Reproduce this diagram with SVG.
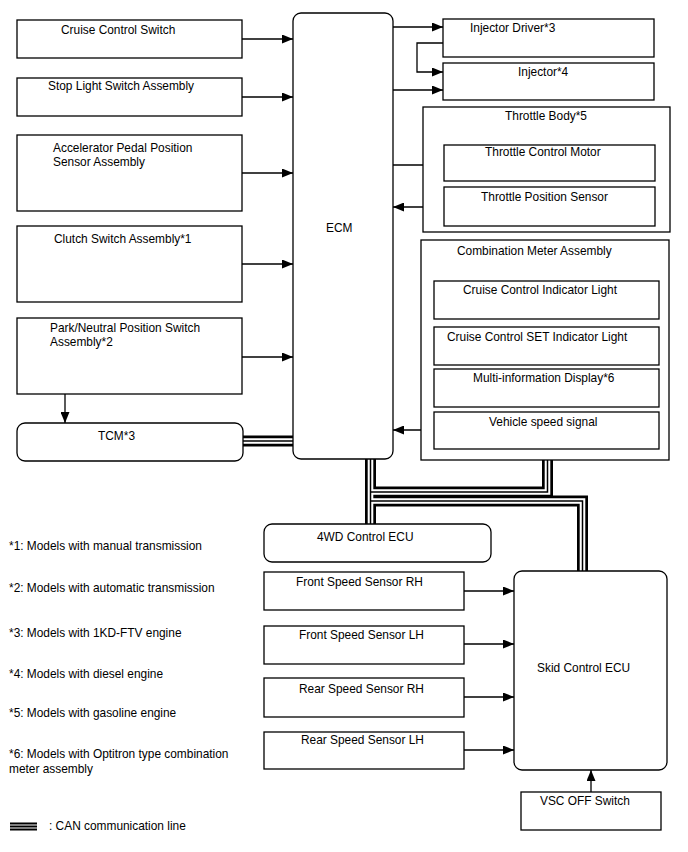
<svg xmlns="http://www.w3.org/2000/svg" width="688" height="852" viewBox="0 0 688 852">
<style>
text{font-family:"Liberation Sans",Arial,sans-serif;font-size:11.9px;fill:#000}
.b{fill:#fff;stroke:#000;stroke-width:1.3}
.c{fill:none;stroke:#000;stroke-width:1.3}
.k1{fill:none;stroke:#000;stroke-width:11}
.k2{fill:none;stroke:#fff;stroke-width:5.6}
.k3{fill:none;stroke:#000;stroke-width:1.5}
</style>
<defs>
<marker id="ah" markerUnits="userSpaceOnUse" markerWidth="11" markerHeight="9" refX="11" refY="4.5" orient="auto">
<path d="M0,0 L11,4.5 L0,9 z" fill="#000"/>
</marker>
</defs>
<g id="connectors">
<g marker-end="url(#ah)" class="c">
<path class="c" d="M242,39 H293"/>
<path class="c" d="M242,97 H293"/>
<path class="c" d="M242,173 H293"/>
<path class="c" d="M242,264 H293"/>
<path class="c" d="M242,357 H293"/>
<path class="c" d="M65,394 V423"/>
<path class="c" d="M393,27 H443"/>
<path class="c" d="M443,43 H417 V72 H443"/>
<path class="c" d="M393,90 H443"/>
<path class="c" d="M393,165 H444"/>
<path class="c" d="M444,207 H393"/>
<path class="c" d="M434,430 H393"/>
<path class="c" d="M464,591 H514"/>
<path class="c" d="M464,644 H514"/>
<path class="c" d="M464,697 H514"/>
<path class="c" d="M464,750 H514"/>
<path class="c" d="M591,792 V770"/>
</g>
<g id="can">
<path class="k1" d="M243,441 H293"/>
<path class="k1" d="M370.5,459 V524"/>
<path class="k1" d="M370.5,492 H547.5 V460"/>
<path class="k1" d="M370.5,501 H582.5 V571"/>
<path class="k2" d="M243,441 H293"/>
<path class="k2" d="M370.5,459 V524"/>
<path class="k2" d="M370.5,492 H547.5 V460"/>
<path class="k2" d="M370.5,501 H582.5 V571"/>
<path class="k3" d="M243,441 H293"/>
<path class="k3" d="M370.5,459 V524"/>
<path class="k3" d="M370.5,492 H547.5 V460"/>
<path class="k3" d="M370.5,501 H582.5 V571"/>
</g>
</g>
<g id="cruise-switch"><rect class="b" x="17" y="20" width="225" height="38"/><text x="61" y="34">Cruise Control Switch</text></g>
<g id="stop-light"><rect class="b" x="17" y="78" width="225" height="38"/><text x="48" y="90">Stop Light Switch Assembly</text></g>
<g id="accel"><rect class="b" x="17" y="135" width="225" height="76"/><text x="53" y="152">Accelerator Pedal Position</text><text x="53" y="166">Sensor Assembly</text></g>
<g id="clutch"><rect class="b" x="17" y="226" width="225" height="76"/><text x="54" y="243">Clutch Switch Assembly*1</text></g>
<g id="park"><rect class="b" x="17" y="318" width="225" height="76"/><text x="50" y="332">Park/Neutral Position Switch</text><text x="50" y="346">Assembly*2</text></g>
<g id="tcm"><rect class="b" x="17" y="423" width="226" height="38" rx="8"/><text x="98" y="440">TCM*3</text></g>
<g id="ecm"><rect class="b" x="293" y="13" width="100" height="446" rx="8"/><text x="326" y="232">ECM</text></g>
<g id="injector-driver"><rect class="b" x="443" y="19" width="211" height="38"/><text x="470" y="32">Injector Driver*3</text></g>
<g id="injector"><rect class="b" x="443" y="63" width="211" height="37"/><text x="518" y="76">Injector*4</text></g>
<g id="throttle-body"><rect class="b" x="423" y="107" width="247" height="125"/><text x="505" y="120">Throttle Body*5</text>
<g id="throttle-motor"><rect class="b" x="444" y="145" width="211" height="36"/><text x="485" y="156">Throttle Control Motor</text></g>
<g id="tps"><rect class="b" x="444" y="187" width="211" height="39"/><text x="481" y="201">Throttle Position Sensor</text></g>
</g>
<g id="combination-meter"><rect class="b" x="421" y="240" width="248" height="220"/><text x="457" y="255">Combination Meter Assembly</text>
<g id="cc-indicator"><rect class="b" x="434" y="281" width="225" height="38"/><text x="463" y="294">Cruise Control Indicator Light</text></g>
<g id="cc-set"><rect class="b" x="434" y="327" width="225" height="38"/><text x="447" y="341">Cruise Control SET Indicator Light</text></g>
<g id="multi-info"><rect class="b" x="434" y="369" width="225" height="38"/><text x="473" y="382">Multi-information Display*6</text></g>
<g id="vehicle-speed"><rect class="b" x="434" y="412" width="225" height="37"/><text x="489" y="426">Vehicle speed signal</text></g>
</g>
<g id="4wd-ecu"><rect class="b" x="264" y="524" width="227" height="38" rx="8"/><text x="317" y="541">4WD Control ECU</text></g>
<g id="front-rh"><rect class="b" x="264" y="572" width="200" height="38"/><text x="296" y="586">Front Speed Sensor RH</text></g>
<g id="front-lh"><rect class="b" x="264" y="626" width="200" height="38"/><text x="299" y="639">Front Speed Sensor LH</text></g>
<g id="rear-rh"><rect class="b" x="264" y="678" width="200" height="39"/><text x="299" y="693">Rear Speed Sensor RH</text></g>
<g id="rear-lh"><rect class="b" x="264" y="732" width="200" height="37"/><text x="301" y="744">Rear Speed Sensor LH</text></g>
<g id="skid-ecu"><rect class="b" x="514" y="571" width="153" height="199" rx="8"/><text x="537" y="672">Skid Control ECU</text></g>
<g id="vsc-off"><rect class="b" x="521" y="792" width="140" height="38"/><text x="540" y="805">VSC OFF Switch</text></g>
<g id="notes">
<text x="9" y="550">*1: Models with manual transmission</text>
<text x="9" y="592">*2: Models with automatic transmission</text>
<text x="9" y="637">*3: Models with 1KD-FTV engine</text>
<text x="9" y="678">*4: Models with diesel engine</text>
<text x="9" y="717">*5: Models with gasoline engine</text>
<text x="9" y="758">*6: Models with Optitron type combination</text>
<text x="9" y="773">meter assembly</text>
</g>
<g id="legend">
<path d="M10,823.5 H37 M10,826.5 H37 M10,829.5 H37" stroke="#000" stroke-width="2" fill="none"/>
<text x="49" y="830">: CAN communication line</text>
</g>
</svg>
